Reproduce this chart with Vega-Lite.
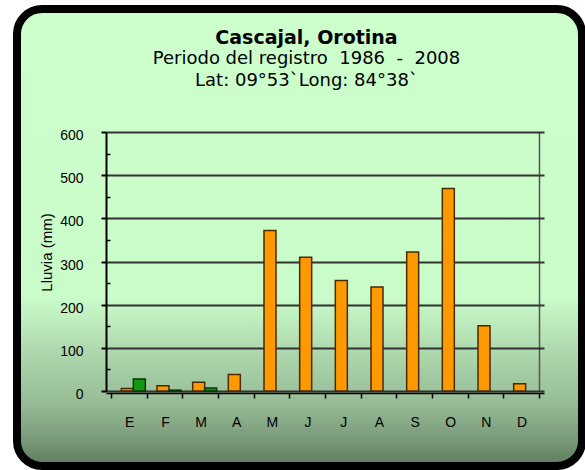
{
  "$schema": "https://vega.github.io/schema/vega-lite/v6.json",
  "width": 565,
  "height": 457,
  "autosize": {"type": "none"},
  "padding": {"left": 17, "top": 9, "right": 3, "bottom": 4},
  "background": "white",
  "title": {
    "text": "Cascajal, Orotina",
    "subtitle": ["Periodo del registro\u00a0 1986\u00a0 -\u00a0 2008", "Lat: 09°53`Long: 84°38`"],
    "anchor": "middle",
    "frame": "group",
    "orient": "top",
    "offset": -81,
    "dx": 7,
    "font": "DejaVu Sans",
    "fontSize": 19,
    "fontWeight": "bold",
    "color": "#000000",
    "subtitleFont": "DejaVu Sans",
    "subtitleFontSize": 18,
    "subtitleColor": "#000000",
    "subtitleLineHeight": 22,
    "subtitlePadding": 2
  },
  "data": {
    "values": [
      {"mes": "E", "n": 1, "lluvia": 6, "verde": 28},
      {"mes": "F", "n": 2, "lluvia": 12, "verde": 2},
      {"mes": "M", "n": 3, "lluvia": 20, "verde": 7},
      {"mes": "A", "n": 4, "lluvia": 38, "verde": null},
      {"mes": "M", "n": 5, "lluvia": 372, "verde": null},
      {"mes": "J", "n": 6, "lluvia": 310, "verde": null},
      {"mes": "J", "n": 7, "lluvia": 256, "verde": null},
      {"mes": "A", "n": 8, "lluvia": 241, "verde": null},
      {"mes": "S", "n": 9, "lluvia": 322, "verde": null},
      {"mes": "O", "n": 10, "lluvia": 469, "verde": null},
      {"mes": "N", "n": 11, "lluvia": 151, "verde": null},
      {"mes": "D", "n": 12, "lluvia": 17, "verde": null}
    ]
  },
  "layer": [
    {
      "mark": {"type": "bar", "width": 12, "xOffset": -1.5, "fill": "#FF9900", "stroke": "#4a2a00", "strokeWidth": 1.5},
      "encoding": {
        "x": {
          "field": "n",
          "type": "quantitative",
          "scale": {"domain": [0.5, 12.5], "range": [89, 527], "nice": false, "zero": false},
          "axis": {
            "orient": "bottom",
            "offset": -73,
            "title": null,
            "values": [0.5, 1.5, 2.5, 3.5, 4.5, 5.5, 6.5, 7.5, 8.5, 9.5, 10.5, 11.5, 12.5],
            "labelExpr": "['E','F','M','A','M','J','J','A','S','O','N','D',''][floor(datum.value)]",
            "labelOffset": 18.25,
            "labelOverlap": false,
            "labelFlush": false,
            "labelFont": "Liberation Sans",
            "labelFontSize": 14,
            "labelFontWeight": "normal",
            "labelColor": "#000000",
            "labelPadding": 17,
            "tickSize": 5,
            "tickWidth": 1.5,
            "tickColor": "#000000",
            "domainColor": "#000000",
            "domainWidth": 1.5,
            "grid": false
          }
        },
        "y": {
          "field": "lluvia",
          "type": "quantitative",
          "scale": {"domain": [0, 600], "range": [382, 123], "nice": false},
          "axis": {
            "orient": "left",
            "offset": -89,
            "values": [0, 100, 200, 300, 400, 500, 600],
            "title": "Lluvia (mm)",
            "titleFont": "Liberation Sans",
            "titleFontSize": 15,
            "titleFontWeight": "normal",
            "titleColor": "#000000",
            "titleX": -60,
            "titleY": 243,
            "titleAngle": -90,
            "titleAlign": "center",
            "titleBaseline": "middle",
            "labelFont": "Liberation Sans",
            "labelFontSize": 14,
            "labelFontWeight": "normal",
            "labelColor": "#000000",
            "labelPadding": 18,
            "labelOffset": 3.5,
            "tickSize": 5,
            "tickWidth": 2,
            "tickColor": "#000000",
            "domainColor": "#000000",
            "domainWidth": 2,
            "grid": true,
            "gridColor": "#333333",
            "gridWidth": 2
          }
        }
      }
    },
    {
      "mark": {"type": "bar", "width": 12, "xOffset": 10.5, "fill": "#119911", "stroke": "#063806", "strokeWidth": 1.5},
      "encoding": {
        "x": {
          "field": "n",
          "type": "quantitative",
          "axis": {
            "orient": "top",
            "values": [12.5],
            "grid": true,
            "gridColor": "#555555",
            "gridWidth": 1.5,
            "ticks": false,
            "labels": false,
            "domain": false,
            "title": null
          }
        },
        "y": {
          "field": "verde",
          "type": "quantitative",
          "axis": {
            "orient": "left",
            "offset": -89,
            "values": [50, 150, 250, 350, 450, 550],
            "tickSize": -4,
            "tickWidth": 1.5,
            "tickColor": "#000000",
            "labels": false,
            "domain": false,
            "grid": false,
            "title": null
          }
        }
      }
    }
  ],
  "resolve": {"axis": {"x": "independent", "y": "independent"}},
  "config": {
    "view": {
      "fill": {
        "gradient": "linear",
        "x1": 0, "y1": 0, "x2": 0, "y2": 1,
        "stops": [
          {"offset": 0, "color": "#CCFFCC"},
          {"offset": 0.63, "color": "#CAFCCA"},
          {"offset": 0.75, "color": "#AED8AE"},
          {"offset": 0.86, "color": "#97BD97"},
          {"offset": 0.93, "color": "#7E9F7E"},
          {"offset": 1, "color": "#5E7C5E"}
        ]
      },
      "stroke": "#000000",
      "strokeWidth": 8,
      "cornerRadius": 25
    }
  }
}
